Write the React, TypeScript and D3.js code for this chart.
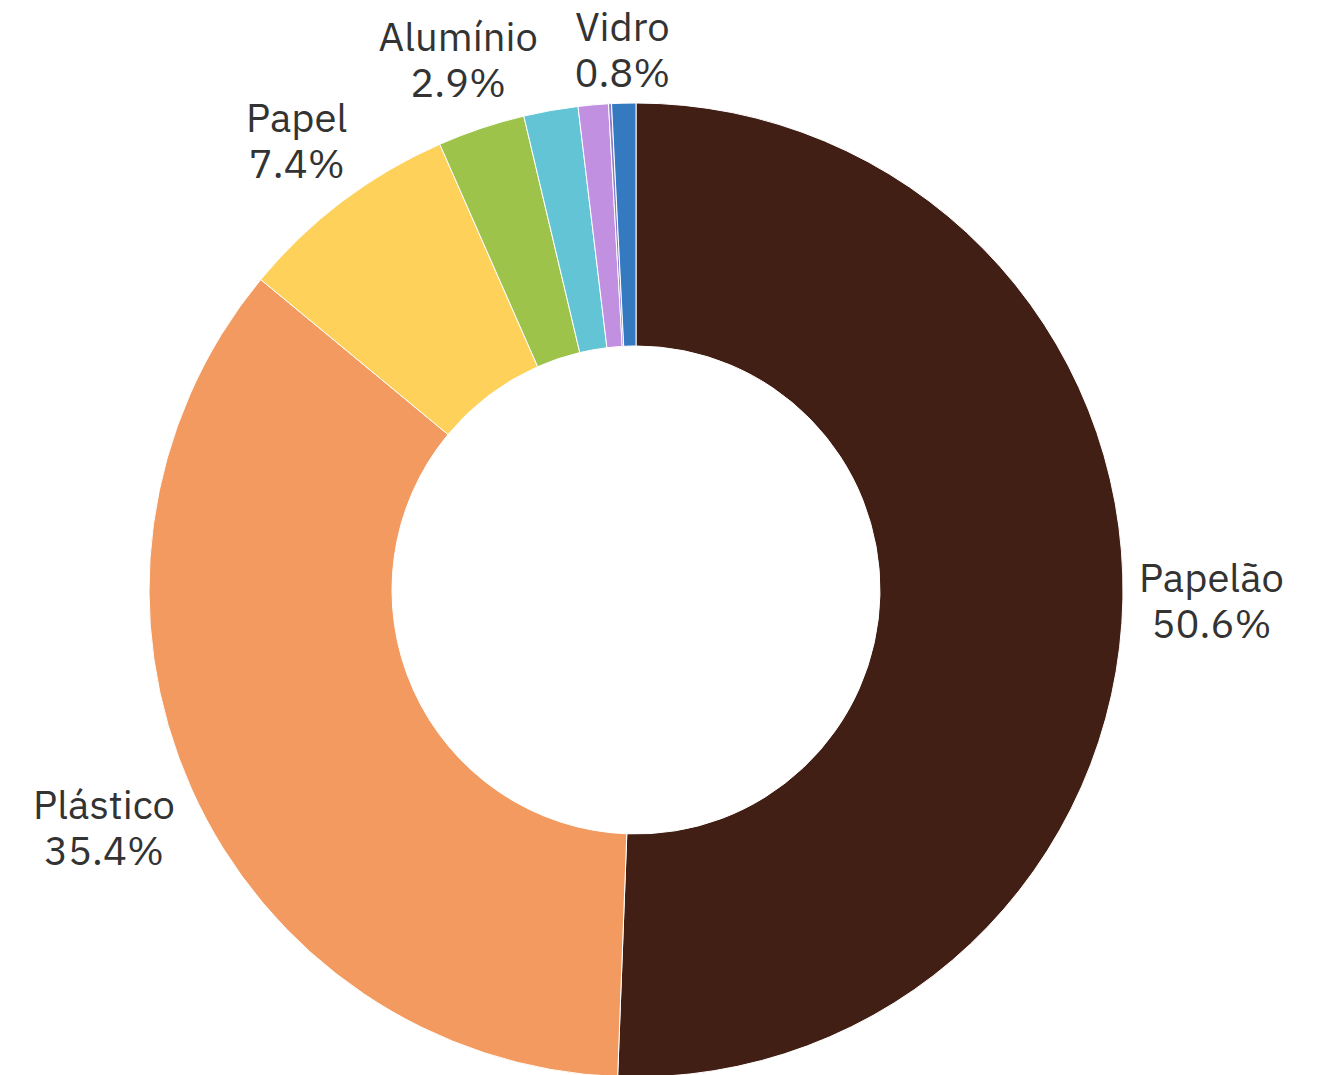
import React, { useMemo } from 'react';
import * as d3 from 'd3';

// Composição dos resíduos (%)
const categories = ['Papelão', 'Plástico', 'Papel', 'Alumínio', 'Isopor', 'Metal', 'Outros', 'Vidro'];
const values = [50.6, 35.4, 7.4, 2.9, 1.8, 1.0, 0.1, 0.8];
const showLabel = [true, true, true, true, false, false, false, true];
const colors = ['#421f14', '#f29a60', '#fdd15a', '#9dc34b', '#63c4d5', '#c190e0', '#8a7cc8', '#3579c0'];

const W = 1321;
const H = 1075;
const FONT = "'IBM Plex Sans', 'Noto Sans', sans-serif";

export default function App() {
    const cx = 636;
    const cy = 590;
    const outerR = 487;
    const innerR = 244;
    const fontSize = 40;
    const lineH = 46;
    const capH = fontSize * 0.7;

    const data = categories.map((c, i) => ({ name: c, value: values[i], color: colors[i], label: showLabel[i] }));

    const pie = d3.pie<typeof data[number]>().value((d) => d.value).sort(null);
    const arcs = pie(data);
    const arcGen = d3.arc<d3.PieArcDatum<typeof data[number]>>().innerRadius(innerR).outerRadius(outerR);

    const measure = useMemo(() => {
        const ctx = document.createElement('canvas').getContext('2d');
        return (s: string) => {
            if (!ctx) return s.length * fontSize * 0.56;
            ctx.font = `${fontSize}px ${FONT}`;
            return ctx.measureText(s).width;
        };
    }, []);

    // push each label box outward along its mid angle until it clears the ring
    const clearR = outerR + 16;
    const labels = arcs
        .filter((a) => a.data.label)
        .map((a) => {
            const mid = (a.startAngle + a.endAngle) / 2;
            const sx = Math.sin(mid);
            const sy = -Math.cos(mid);
            const pct = `${a.data.value.toFixed(1)}%`;
            const hw = Math.max(measure(a.data.name), measure(pct)) / 2;
            const hh = (lineH + capH) / 2;
            const nearest = (d: number) => {
                const x = d * sx;
                const y = d * sy;
                const nx = Math.max(Math.abs(x) - hw, 0);
                const ny = Math.max(Math.abs(y) - hh, 0);
                return Math.hypot(nx, ny);
            };
            let lo = 0;
            let hi = 2000;
            for (let k = 0; k < 50; k++) {
                const m = (lo + hi) / 2;
                if (nearest(m) < clearR) lo = m;
                else hi = m;
            }
            return { name: a.data.name, pct, x: hi * sx, y: hi * sy };
        });

    return (
        <svg
            width={W}
            height={H}
            viewBox={`0 0 ${W} ${H}`}
            style={{ position: 'absolute', left: 0, top: 0, background: '#fff' }}
            fontFamily={FONT}
        >
            <g transform={`translate(${cx},${cy})`}>
                {arcs.map((a) => (
                    <path key={a.data.name} d={arcGen(a) ?? ''} fill={a.data.color} stroke="#fff" strokeWidth={1} />
                ))}
                {labels.map((l) => (
                    <text key={l.name} textAnchor="middle" fill="#333" fontSize={fontSize}>
                        <tspan x={l.x} y={l.y - lineH / 2 + capH / 2}>{l.name}</tspan>
                        <tspan x={l.x} y={l.y + lineH / 2 + capH / 2}>{l.pct}</tspan>
                    </text>
                ))}
            </g>
        </svg>
    );
}
